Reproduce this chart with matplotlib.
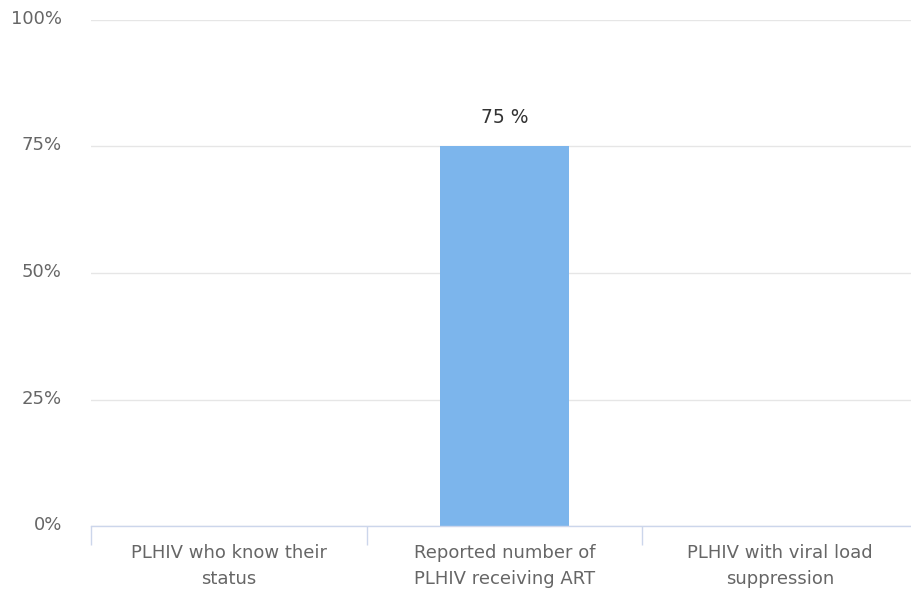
import matplotlib
matplotlib.use("Agg")
import matplotlib.pyplot as plt
from matplotlib.ticker import FixedLocator
from matplotlib.transforms import ScaledTranslation

categories = ["PLHIV who know their\nstatus",
              "Reported number of\nPLHIV receiving ART",
              "PLHIV with viral load\nsuppression"]
values = [None, 75, None]
yticks = [0, 25, 50, 75, 100]
ytick_labels = ["0%", "25%", "50%", "75%", "100%"]

plt.rcParams['font.family'] = ['DejaVu Sans']

fig = plt.figure(figsize=(9.11, 5.98), dpi=100)
ax = fig.add_axes([91/911, 72/598, 827/911, 506/598])

xs = [i for i, v in enumerate(values) if v is not None]
vs = [v for v in values if v is not None]
ax.bar(xs, vs, width=0.47, color="#7cb5ec", zorder=3)
for x, v in zip(xs, vs):
    ax.annotate(f"{v} %", (x, v), xytext=(0, 14), textcoords="offset points",
                ha="center", va="bottom", fontsize=13.5, color="#333333")

ax.set_xlim(-0.5, 2.5)
ax.set_ylim(0, 100)
ax.set_yticks(yticks)
ax.set_yticklabels(ytick_labels)
ax.set_xticks(range(len(categories)))
ax.set_xticklabels(categories, linespacing=1.55)
ax.xaxis.set_minor_locator(FixedLocator([-0.5, 0.5, 1.5, 2.5]))

ax.grid(axis="y", color="#e6e6e6", linewidth=1, zorder=0)
for s in ["top", "right", "left"]:
    ax.spines[s].set_visible(False)
ax.spines["bottom"].set_color("#ccd6eb")
ax.spines["bottom"].set_linewidth(1)
ax.spines["bottom"].set_zorder(4)

ax.tick_params(axis="y", length=0, pad=21, labelsize=13, labelcolor="#666666")
ax.tick_params(axis="x", which="major", length=0, pad=13, labelsize=13, labelcolor="#666666")
ax.tick_params(axis="x", which="minor", length=14, width=1, color="#ccd6eb")
for lbl in ax.get_yticklabels():
    lbl.set_transform(lbl.get_transform() + ScaledTranslation(0, 3/100, fig.dpi_scale_trans))

fig.savefig("out.png", dpi=100, facecolor="white")
